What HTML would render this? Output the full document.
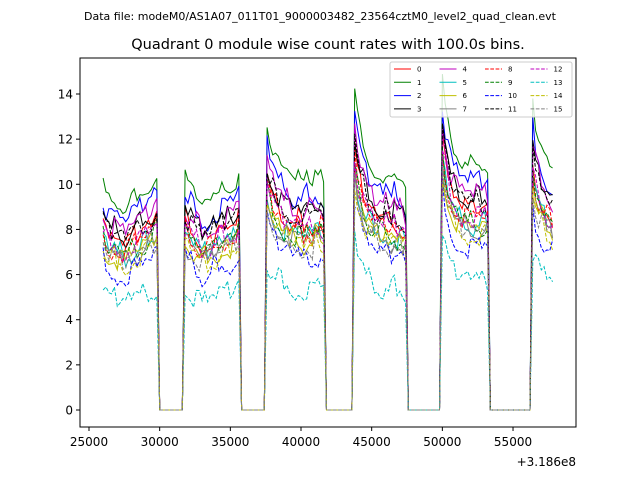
<!DOCTYPE html>
<html><head><meta charset="utf-8"><style>
body{margin:0;background:#fff}
text{font-family:"DejaVu Sans","Liberation Sans",sans-serif}
</style></head><body>
<svg id="c" width="640" height="480" xmlns="http://www.w3.org/2000/svg">
<text x="320" y="20" font-size="11" text-anchor="middle">Data file: modeM0/AS1A07_011T01_9000003482_23564cztM0_level2_quad_clean.evt</text>
<text x="328" y="49" font-size="14.5" text-anchor="middle">Quadrant 0 module wise count rates with 100.0s bins.</text>
<g id="plot"></g>
<rect x="80" y="58" width="496" height="369" fill="none" stroke="#000" stroke-width="1"/>
<g id="axes"></g>
<text x="576" y="466" font-size="12" text-anchor="end">+3.186e8</text>
<g id="legend"></g>
</svg>
<script>
const NS="http://www.w3.org/2000/svg";
const seriesNames=["0","1","2","3","4","5","6","7","8","9","10","11","12","13","14","15"];
const colors=["#ff0000","#008000","#0000ff","#000000","#bf00bf","#00bfbf","#bfbf00","#808080","#ff0000","#008000","#0000ff","#000000","#bf00bf","#00bfbf","#bfbf00","#808080"];
const levels=[7.7,9.5,8.8,8.2,8.3,7.2,7.0,7.0,7.4,7.2,6.3,8.0,7.5,5.0,6.8,6.8];
const tStart=26000, tStep=200;
const shape=[10.1,9.6,9.3,9.2,9.4,9.1,9.2,9.0,8.9,9.2,9.3,9.5,9.4,9.6,9.7,9.8,9.9,10.0,10.2,10.5,
0,0,0,0,0,0,0,0,0,
10.4,10.0,9.9,9.6,9.5,9.3,9.0,9.2,9.1,9.3,9.5,9.4,9.6,9.8,9.7,9.9,9.8,10.0,10.1,10.6,
0,0,0,0,0,0,0,0,0,
12.7,12.0,11.6,11.2,11.0,10.8,10.5,10.7,10.4,10.3,10.2,10.4,10.1,10.0,10.3,10.2,10.0,10.5,10.3,10.4,10.1,
0,0,0,0,0,0,0,0,0,0,
14.3,13.0,12.3,11.8,11.3,11.0,10.8,10.6,10.5,10.4,10.3,10.6,10.2,10.1,10.4,10.0,10.2,10.0,9.8,
0,0,0,0,0,0,0,0,0,0,0,0,
14.7,13.5,12.6,12.0,11.6,11.4,11.2,11.0,11.1,10.9,11.0,10.8,11.0,10.9,10.8,10.9,10.8,
0,0,0,0,0,0,0,0,0,0,0,0,0,0,0,
13.5,12.5,12.0,11.6,11.3,11.0,10.8,10.6];
const jitter=[0.3,-0.4,0.1,0.5,-0.2,-0.5,0.2,0.4,-0.3,0.0,0.5,-0.1,-0.4,0.3,0.1,-0.5,0.4,-0.2,0.2,-0.3,
0.1,0.4,-0.5,0.3,-0.1,0.2,-0.4,0.5,0.0,-0.2,0.3,-0.3,0.4,-0.5,0.1,0.2,-0.1,0.5,-0.4,0.0];
const yTicks=[0,2,4,6,8,10,12,14];
const xTicks=[25000,30000,35000,40000,45000,50000,55000];
const xs=v=>89+(v-25000)*70.67/5000;
const ys=v=>410-v*(316/14);
const plot=document.getElementById('plot');
seriesNames.forEach((nm,s)=>{
  let d="";
  shape.forEach((v,i)=>{
    let val=v===0?0:levels[s]*v/9.5+jitter[(i*7+s*13)%40]*(s===1?0.6:1);
    d+=(i?"L":"M")+xs(tStart+i*tStep).toFixed(1)+","+ys(val).toFixed(1);
  });
  const p=document.createElementNS(NS,'path');
  p.setAttribute('d',d);p.setAttribute('fill','none');p.setAttribute('stroke',colors[s]);p.setAttribute('stroke-width','1');
  if(s>=8)p.setAttribute('stroke-dasharray','3.7,1.6');
  
  
  plot.appendChild(p);
});
const ax=document.getElementById('axes');
yTicks.forEach(v=>{
  const l=document.createElementNS(NS,'line');
  l.setAttribute('x1',76);l.setAttribute('x2',80);l.setAttribute('y1',ys(v));l.setAttribute('y2',ys(v));l.setAttribute('stroke','#000');
  
  
  ax.appendChild(l);
  const t=document.createElementNS(NS,'text');
  t.setAttribute('x',73);t.setAttribute('y',ys(v)+4.5);t.setAttribute('font-size','12');t.setAttribute('text-anchor','end');t.textContent=v;
  
  
  ax.appendChild(t);
});
xTicks.forEach(v=>{
  const l=document.createElementNS(NS,'line');
  l.setAttribute('x1',xs(v));l.setAttribute('x2',xs(v));l.setAttribute('y1',427);l.setAttribute('y2',431);l.setAttribute('stroke','#000');
  
  
  ax.appendChild(l);
  const t=document.createElementNS(NS,'text');
  t.setAttribute('x',xs(v));t.setAttribute('y',446);t.setAttribute('font-size','12');t.setAttribute('text-anchor','middle');t.textContent=v;
  
  
  ax.appendChild(t);
});
const lg=document.getElementById('legend');
const box=document.createElementNS(NS,'rect');
box.setAttribute('x',390);box.setAttribute('y',62);box.setAttribute('width',182);box.setAttribute('height',55);box.setAttribute('rx',2);
box.setAttribute('fill','#fff');box.setAttribute('fill-opacity','0.8');box.setAttribute('stroke','#ccc');


lg.appendChild(box);
seriesNames.forEach((nm,s)=>{
  const col=Math.floor(s/4),row=s%4;
  const x0=394+col*45.5,y0=69+row*13.3;
  const l=document.createElementNS(NS,'line');
  l.setAttribute('x1',x0);l.setAttribute('x2',x0+17);l.setAttribute('y1',y0);l.setAttribute('y2',y0);l.setAttribute('stroke',colors[s]);
  if(s>=8)l.setAttribute('stroke-dasharray','3.7,1.6');
  
  
  lg.appendChild(l);
  const t=document.createElementNS(NS,'text');
  t.setAttribute('x',x0+23);t.setAttribute('y',y0+2.5);t.setAttribute('font-size','7');t.textContent=nm;
  
  
  lg.appendChild(t);
});
</script>
</body></html>
